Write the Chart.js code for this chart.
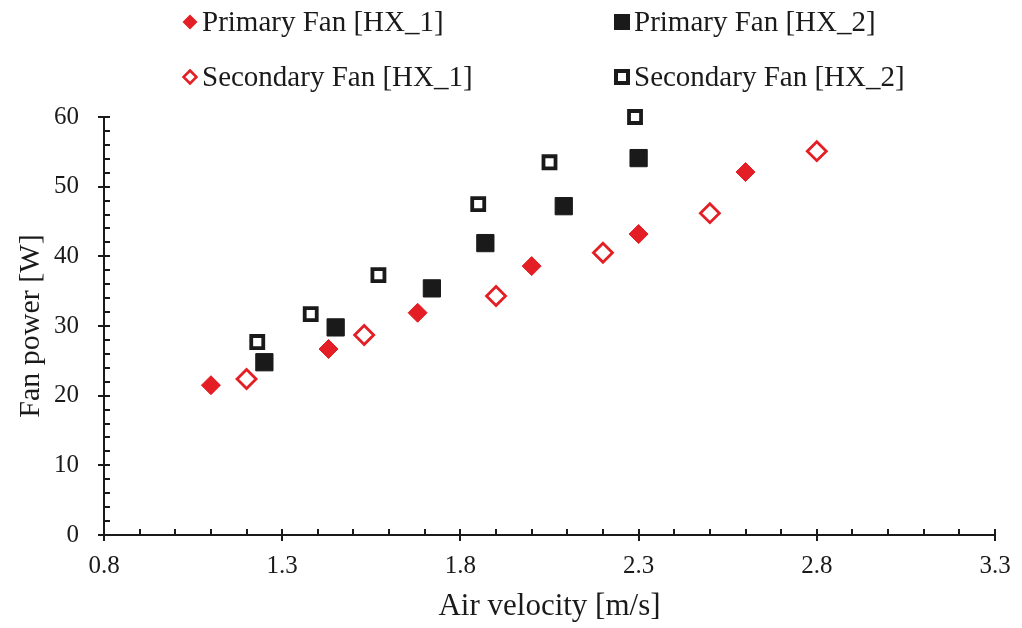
<!DOCTYPE html>
<html>
<head>
<meta charset="utf-8">
<script src="https://cdn.jsdelivr.net/npm/chart.js@4"></script>
<style>
body { margin: 0; background: #fff; }
#wrap { position: relative; width: 1022px; height: 628px; font-family: 'Liberation Serif', 'Times New Roman', serif; }
.leg { position: absolute; display: flex; align-items: center; font-size: 29px; color: #1a1a1a; white-space: nowrap; line-height: 1; }
.leg svg { margin-right: 4px; }
</style>
</head>
<body>
<div id="wrap">
  <canvas id="fanChart" width="1022" height="628"></canvas>
  <div id="legend"></div>
</div>

<script>
// values
const seriesLabels = ['Primary Fan [HX_1]', 'Primary Fan [HX_2]', 'Secondary Fan [HX_1]', 'Secondary Fan [HX_2]'];

const primaryHX1X = [1.10, 1.43, 1.68, 2.00, 2.30, 2.60];
const primaryHX1Y = [21.5, 26.7, 31.9, 38.6, 43.2, 52.1];

const primaryHX2X = [1.25, 1.45, 1.72, 1.87, 2.09, 2.30];
const primaryHX2Y = [24.8, 29.8, 35.4, 41.9, 47.2, 54.1];

const secondaryHX1X = [1.20, 1.53, 1.90, 2.20, 2.50, 2.80];
const secondaryHX1Y = [22.4, 28.7, 34.3, 40.5, 46.2, 55.1];

const secondaryHX2X = [1.23, 1.38, 1.57, 1.85, 2.05, 2.29];
const secondaryHX2Y = [27.7, 31.7, 37.3, 47.5, 53.5, 60.0];

const xTicksMin = 0.8, xTicksMax = 3.3, xStep = 0.5;
const yTicksMin = 0, yTicksMax = 60, yStep = 10;

const red = '#e31e24';
const black = '#1a1a1a';
const serif = "'Liberation Serif', 'Times New Roman', serif";

function pts(xs, ys) {
    return xs.map((x, i) => ({x: x, y: ys[i]}));
}

// minor + major tick marks like the original axes
const tickMarks = {
    id: 'tickMarks',
    afterDraw(chart) {
        const {ctx, chartArea: a, scales: {x, y}} = chart;
        ctx.save();
        ctx.strokeStyle = black;
        ctx.lineWidth = 2;
        ctx.beginPath();
        for (let i = 0; i <= 25; i++) {
            const px = Math.round(x.getPixelForValue(xTicksMin + i * 0.1));
            const major = i % 5 == 0;
            ctx.moveTo(px, a.bottom + (major ? 6 : 0));
            ctx.lineTo(px, a.bottom - 6);
        }
        for (let i = 0; i <= 30; i++) {
            const py = Math.round(y.getPixelForValue(i * 2));
            const major = i % 5 == 0;
            ctx.moveTo(a.left - (major ? 6 : 0), py);
            ctx.lineTo(a.left + 6, py);
        }
        ctx.stroke();
        ctx.restore();
    }
};

Chart.defaults.font.family = serif;
Chart.defaults.color = black;

var ctx = document.getElementById('fanChart').getContext('2d');
var chart = new Chart(ctx, {
    type: 'scatter',
    data: {
        datasets: [{
            label: seriesLabels[0],
            data: pts(primaryHX1X, primaryHX1Y),
            pointStyle: 'rectRot',
            pointRadius: 9.5,
            backgroundColor: red,
            borderColor: red,
            borderWidth: 1,
            clip: false
        }, {
            label: seriesLabels[1],
            data: pts(primaryHX2X, primaryHX2Y),
            pointStyle: 'rect',
            pointRadius: 12.2,
            backgroundColor: black,
            borderColor: black,
            borderWidth: 1,
            clip: false
        }, {
            label: seriesLabels[2],
            data: pts(secondaryHX1X, secondaryHX1Y),
            pointStyle: 'rectRot',
            pointRadius: 9.5,
            backgroundColor: '#fff',
            borderColor: red,
            borderWidth: 2.8,
            clip: false
        }, {
            label: seriesLabels[3],
            data: pts(secondaryHX2X, secondaryHX2Y),
            pointStyle: 'rect',
            pointRadius: 8.5,
            backgroundColor: '#fff',
            borderColor: black,
            borderWidth: 3.8,
            clip: false
        }]
    },
    options: {
        responsive: false,
        animation: false,
        layout: { padding: { top: 117, right: 27, left: 0, bottom: 0 } },
        plugins: {
            legend: { display: false },
            tooltip: { enabled: false }
        },
        scales: {
            x: {
                type: 'linear',
                min: xTicksMin,
                max: xTicksMax,
                ticks: { stepSize: xStep, padding: 16, font: { size: 25 }, callback: v => v.toFixed(1) },
                grid: { drawOnChartArea: false, drawTicks: false },
                border: { color: black, width: 2 },
                title: { display: true, text: 'Air velocity [m/s]', font: { size: 31 }, padding: { top: 0, bottom: 3 } },
                afterFit(s) { s.height = 93; s.paddingLeft = 0; s.paddingRight = 0; }
            },
            y: {
                min: yTicksMin,
                max: yTicksMax,
                ticks: { stepSize: yStep, padding: 25, font: { size: 25 } },
                grid: { drawOnChartArea: false, drawTicks: false },
                border: { color: black, width: 2 },
                title: { display: true, text: 'Fan power [W]', font: { size: 30 }, padding: { top: 13, bottom: 0 } },
                afterFit(s) { s.width = 104; s.paddingTop = 0; s.paddingBottom = 0; }
            }
        }
    },
    plugins: [tickMarks]
});

// legend in two columns, like the original
const markers = [
    '<svg width="16" height="16"><polygon points="8,0.5 15.5,8 8,15.5 0.5,8" fill="' + red + '"/></svg>',
    '<svg width="16" height="16"><rect x="0" y="0" width="16" height="16" fill="' + black + '"/></svg>',
    '<svg width="16" height="16"><polygon points="8,1.5 14.5,8 8,14.5 1.5,8" fill="#fff" stroke="' + red + '" stroke-width="2.6"/></svg>',
    '<svg width="16" height="16"><rect x="2" y="2" width="12" height="12" fill="#fff" stroke="' + black + '" stroke-width="4"/></svg>'
];
const legendPos = [[182, 22], [614, 22], [182, 77], [614, 77]];
const legend = document.getElementById('legend');
seriesLabels.forEach((lab, i) => {
    const d = document.createElement('div');
    d.className = 'leg';
    d.style.left = legendPos[i][0] + 'px';
    d.style.top = (legendPos[i][1] - 15) + 'px';
    d.innerHTML = markers[i] + '<span>' + lab + '</span>';
    legend.appendChild(d);
});
</script>
</body>
</html>
